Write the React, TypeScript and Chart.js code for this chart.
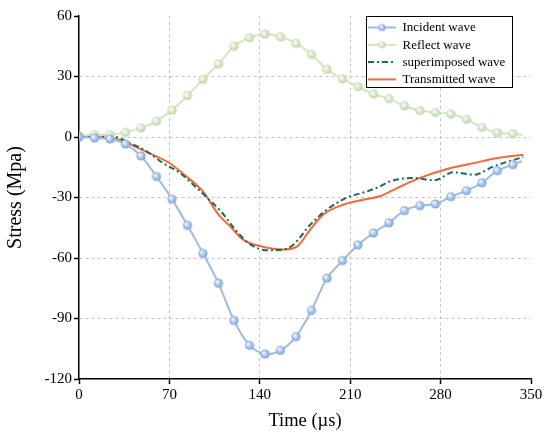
import { useEffect, useRef } from "react";
import { Chart, registerables, type Plugin } from "chart.js";

Chart.register(...registerables);

// time axis of the marked curves (µs)
const markTimes = [0, 12, 24, 36, 48, 60, 72, 84, 96, 108, 120, 132, 144, 156, 168, 180, 192, 204, 216, 228, 240, 252, 264, 276, 288, 300, 312, 324, 336, 343];
const incident = [0, -0.5, -1, -3.5, -9.4, -19.6, -30.8, -43.8, -57.7, -72.5, -91, -103.3, -107.6, -105.8, -99, -86, -70, -61.3, -53.5, -47.6, -42.6, -36.5, -34, -33.2, -29.6, -26.6, -22.7, -16.7, -13.7, -12];
const reflect = [0.8, 1.1, 1.1, 2.3, 4.5, 7.9, 13.4, 20.5, 28.6, 36.2, 45, 49.2, 51.1, 49.7, 46.4, 41, 33.5, 28.8, 25, 21.3, 19, 15.4, 13.1, 12.2, 11.4, 8.8, 4.8, 2.1, 1.6, 1];

const superTimes = [0, 26, 39, 52, 65, 78, 90, 98, 111, 121, 133, 146, 158, 166, 179, 192, 207, 223, 233, 241, 249, 259, 275, 290, 306, 321, 344];
const superimposed = [0.5, 0.3, -3, -7, -12.9, -17.8, -24.5, -29.4, -37.7, -46, -53.4, -56.2, -55.8, -53.4, -43.5, -36, -30.2, -27, -24.5, -22, -20.8, -20.3, -21.5, -17.5, -18.7, -14.6, -9.9];

const transTimes = [0, 15, 31, 46, 54, 70, 83, 96, 108, 117, 127, 143, 158, 169, 179, 189, 205, 220, 233, 241, 249, 264, 285, 306, 324, 344];
const transmitted = [0.3, 0, -1.3, -5.5, -7.9, -12.9, -19.5, -27, -38.5, -44.3, -50.9, -54.5, -55.8, -54.2, -45.9, -38.5, -33.5, -31.1, -29.4, -27, -24.5, -20.3, -15.9, -12.9, -10.4, -8.8];

const xTicks = [0, 70, 140, 210, 280, 350];
const yTicks = [-120, -90, -60, -30, 0, 30, 60];

const SERIF = '"Liberation Serif", "Times New Roman", serif';

function sphere(r: number, light: string, mid: string, edge: string) {
  const c = document.createElement("canvas");
  const s = Math.ceil(r * 2 + 2);
  c.width = s;
  c.height = s;
  const ctx = c.getContext("2d")!;
  const cx = s / 2;
  const g = ctx.createRadialGradient(cx - r * 0.35, cx - r * 0.35, r * 0.1, cx, cx, r);
  g.addColorStop(0, light);
  g.addColorStop(0.55, mid);
  g.addColorStop(1, edge);
  ctx.fillStyle = g;
  ctx.beginPath();
  ctx.arc(cx, cx, r, 0, Math.PI * 2);
  ctx.fill();
  return c;
}

const zip = (xs: number[], ys: number[]) => xs.map((x, i) => ({ x, y: ys[i] }));

const legendBox: Plugin = {
  id: "legendBox",
  afterDraw(chart) {
    const ctx = chart.ctx;
    const x0 = 366.5, y0 = 16.5, w = 146, h = 71;
    ctx.save();
    ctx.fillStyle = "#fff";
    ctx.fillRect(x0, y0, w, h);
    ctx.strokeStyle = "#000";
    ctx.lineWidth = 1;
    ctx.strokeRect(x0, y0, w, h);
    chart.data.datasets.forEach((ds: any, i) => {
      const y = 27.5 + i * 17.3;
      ctx.save();
      ctx.strokeStyle = ds.borderColor;
      ctx.lineWidth = ds.borderWidth;
      ctx.setLineDash(ds.borderDash || []);
      ctx.beginPath();
      ctx.moveTo(368, y);
      ctx.lineTo(396, y);
      ctx.stroke();
      ctx.restore();
      if (ds.legendMark) {
        const m = ds.legendMark as HTMLCanvasElement;
        ctx.drawImage(m, 382 - m.width / 2, y - m.height / 2);
      }
      ctx.fillStyle = "#000";
      ctx.font = `13px ${SERIF}`;
      ctx.textBaseline = "middle";
      ctx.fillText(ds.label, 402.5, y + 0.5);
    });
    ctx.restore();
  }
};

function gridColor(last: number) {
  return (c: any) => (c.index === 0 || c.index === last ? "rgba(0,0,0,0)" : "#c4c4c4");
}

export default function App() {
  const ref = useRef<HTMLCanvasElement | null>(null);
  useEffect(() => {
    if (!ref.current) return;
    const blueMark = sphere(4.6, "#f4f8ff", "#a9c4ea", "#7ea2d4");
    const greenMark = sphere(4.6, "#fbfdf8", "#d9e8cc", "#bcd3a7");
    const chart = new Chart(ref.current, {
      type: "line",
      data: {
        datasets: [
          {
            label: "Incident wave",
            data: zip(markTimes, incident),
            borderColor: "#9dbbe4",
            borderWidth: 2,
            pointStyle: blueMark,
            pointRadius: markTimes.map((_, i) => (i === markTimes.length - 1 ? 0 : 4.6)),
            tension: 0.3,
            legendMark: sphere(3.6, "#f4f8ff", "#a9c4ea", "#7ea2d4")
          } as any,
          {
            label: "Reflect wave",
            data: zip(markTimes, reflect),
            borderColor: "#d3e5c5",
            borderWidth: 2,
            pointStyle: greenMark,
            pointRadius: markTimes.map((_, i) => (i === markTimes.length - 1 ? 0 : 4.6)),
            tension: 0.3,
            legendMark: sphere(3.6, "#fbfdf8", "#d9e8cc", "#bcd3a7")
          } as any,
          {
            label: "superimposed wave",
            data: zip(superTimes, superimposed),
            borderColor: "#1c6a5d",
            borderWidth: 2,
            borderDash: [6, 3, 2, 3],
            pointRadius: 0,
            cubicInterpolationMode: "monotone"
          },
          {
            label: "Transmitted wave",
            data: zip(transTimes, transmitted),
            borderColor: "#f4683a",
            borderWidth: 2,
            pointRadius: 0,
            cubicInterpolationMode: "monotone"
          }
        ]
      },
      options: {
        animation: false,
        responsive: true,
        maintainAspectRatio: false,
        layout: { padding: { top: 16, right: 19, left: 0, bottom: 0 } },
        plugins: { legend: { display: false }, tooltip: { enabled: false } },
        scales: {
          x: {
            type: "linear",
            min: 0,
            max: 350,
            afterFit: (s) => {
              s.height = 63;
            },
            afterBuildTicks: (s) => {
              s.ticks = xTicks.map((v) => ({ value: v }));
            },
            ticks: { color: "#000", font: { family: SERIF, size: 15 }, padding: 2, maxRotation: 0 },
            grid: { color: gridColor(xTicks.length - 1), lineWidth: 1, tickColor: "#000", tickLength: 5, tickWidth: 1.5 },
            border: { display: true, color: "#000", width: 1.5, dash: [3, 3] },
            title: { display: true, text: "Time (µs)", color: "#000", font: { family: SERIF, size: 18.5 }, padding: { top: 0, bottom: 9.5 } }
          },
          y: {
            min: -120,
            max: 60,
            afterFit: (s) => {
              s.width = 79;
            },
            afterBuildTicks: (s) => {
              s.ticks = yTicks.map((v) => ({ value: v }));
            },
            ticks: { color: "#000", font: { family: SERIF, size: 15 }, padding: 2 },
            grid: { color: gridColor(yTicks.length - 1), lineWidth: 1, tickColor: "#000", tickLength: 5, tickWidth: 1.5 },
            border: { display: true, color: "#000", width: 1.5, dash: [3, 3] },
            title: { display: true, text: "Stress (Mpa)", color: "#000", font: { family: SERIF, size: 20 }, padding: { top: 4, bottom: 0 } }
          }
        }
      },
      plugins: [legendBox]
    });
    return () => chart.destroy();
  }, []);
  return (
    <div style={{ position: "fixed", left: 0, top: 0, width: 550, height: 442, background: "#fff" }}>
      <canvas ref={ref} />
    </div>
  );
}
